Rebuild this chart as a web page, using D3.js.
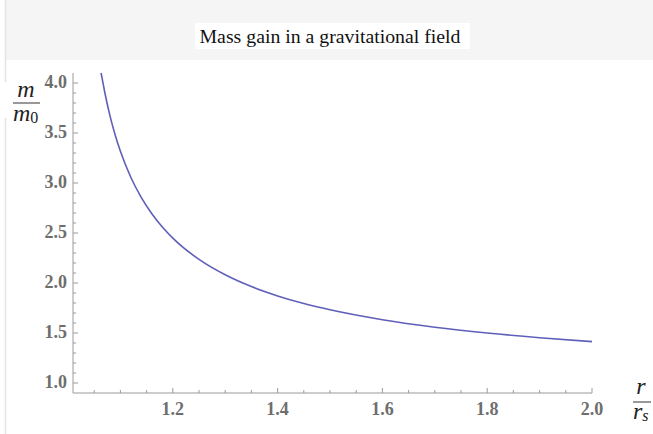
<!DOCTYPE html>
<html>
<head>
<meta charset="utf-8">
<script src="https://cdn.jsdelivr.net/npm/d3@7"></script>
<style>
  html, body { margin: 0; padding: 0; background: #ffffff; }
  svg { display: block; }
</style>
</head>
<body>
<svg id="chart" width="653" height="434"></svg>
<script>
// ---- data ----
const title = "Mass gain in a gravitational field";
const rValues = [1.063, 1.065, 1.07, 1.08, 1.09, 1.10, 1.12, 1.14, 1.16, 1.18, 1.20,
                 1.25, 1.30, 1.35, 1.40, 1.45, 1.50, 1.60, 1.70, 1.80, 1.90, 2.00];
const mValues = [4.10, 4.048, 3.910, 3.674, 3.480, 3.317, 3.055, 2.854, 2.693, 2.560, 2.449,
                 2.236, 2.082, 1.964, 1.871, 1.795, 1.732, 1.633, 1.558, 1.500, 1.453, 1.414];
const xTicks = [1.2, 1.4, 1.6, 1.8, 2.0];
const xMinorTicks = [1.05, 1.1, 1.15, 1.25, 1.3, 1.35, 1.45, 1.5, 1.55, 1.65, 1.7, 1.75, 1.85, 1.9, 1.95];
const yTicks = [1.0, 1.5, 2.0, 2.5, 3.0, 3.5, 4.0];
const yMinorTicks = [1.1, 1.2, 1.3, 1.4, 1.6, 1.7, 1.8, 1.9, 2.1, 2.2, 2.3, 2.4, 2.6, 2.7, 2.8, 2.9,
                     3.1, 3.2, 3.3, 3.4, 3.6, 3.7, 3.8, 3.9];

const svg = d3.select("#chart");

// header band and frame line
svg.append("rect").attr("x", 6).attr("y", 0).attr("width", 647).attr("height", 60).attr("fill", "#f5f5f5");
svg.append("line").attr("x1", 5.5).attr("x2", 5.5).attr("y1", 0).attr("y2", 434)
   .attr("stroke", "#e4e4e4").attr("stroke-width", 1.5);
svg.append("rect").attr("x", 195).attr("y", 23).attr("width", 275).attr("height", 26).attr("fill", "#ffffff");
svg.append("text").attr("x", 330).attr("y", 43).attr("text-anchor", "middle")
   .attr("font-family", "'Liberation Serif', 'Times New Roman', serif").attr("font-size", 19.8)
   .attr("fill", "#111").text(title);

const x = d3.scaleLinear().domain([1.0095, 2.0]).range([73, 592]);
const y = d3.scaleLinear().domain([0.9, 4.1]).range([393, 73]);

const axisColor = "#9a9a9a";
const labelColor = "#6e6e6e";
const tickFont = "'Liberation Serif', serif";

// x axis
const gx = svg.append("g").attr("transform", "translate(0,393)");
gx.append("line").attr("x1", x.range()[0]).attr("x2", x.range()[1]).attr("y1", 0).attr("y2", 0)
  .attr("stroke", axisColor).attr("stroke-width", 1);
gx.selectAll("line.maj").data(xTicks).join("line").attr("class", "maj")
  .attr("x1", d => x(d)).attr("x2", d => x(d)).attr("y1", 0).attr("y2", -5)
  .attr("stroke", axisColor);
gx.selectAll("line.min").data(xMinorTicks).join("line").attr("class", "min")
  .attr("x1", d => x(d)).attr("x2", d => x(d)).attr("y1", 0).attr("y2", -3)
  .attr("stroke", axisColor);
gx.selectAll("text").data(xTicks).join("text")
  .attr("x", d => x(d)).attr("y", 22).attr("text-anchor", "middle")
  .attr("font-family", tickFont).attr("font-weight", "bold").attr("font-size", 18).attr("fill", labelColor)
  .text(d3.format(".1f"));

// y axis
const gy = svg.append("g").attr("transform", "translate(73,0)");
gy.append("line").attr("x1", 0).attr("x2", 0).attr("y1", y.range()[0]).attr("y2", y.range()[1])
  .attr("stroke", axisColor).attr("stroke-width", 1);
gy.selectAll("line.maj").data(yTicks).join("line").attr("class", "maj")
  .attr("x1", 0).attr("x2", 5).attr("y1", d => y(d)).attr("y2", d => y(d))
  .attr("stroke", axisColor);
gy.selectAll("line.min").data(yMinorTicks).join("line").attr("class", "min")
  .attr("x1", 0).attr("x2", 3).attr("y1", d => y(d)).attr("y2", d => y(d))
  .attr("stroke", axisColor);
gy.selectAll("text").data(yTicks).join("text")
  .attr("x", -6).attr("y", d => y(d) + 5).attr("text-anchor", "end")
  .attr("font-family", tickFont).attr("font-weight", "bold").attr("font-size", 18).attr("fill", labelColor)
  .text(d3.format(".1f"));

// curve
const pts = rValues.map((r, i) => [r, mValues[i]]);
svg.append("path").datum(pts)
  .attr("d", d3.line().x(d => x(d[0])).y(d => y(d[1])).curve(d3.curveMonotoneX))
  .attr("fill", "none").attr("stroke", "#5f5fb9").attr("stroke-width", 1.6);

// axis labels (fractions)
const lf = "'Liberation Serif', serif";
const yl = svg.append("g");
yl.append("rect").attr("x", 3).attr("y", 82).attr("width", 6).attr("height", 36).attr("fill", "#fff");
yl.append("text").attr("x", 26).attr("y", 97).attr("text-anchor", "middle")
  .attr("font-family", lf).attr("font-style", "italic").attr("font-size", 24).attr("fill", "#222").text("m");
yl.append("line").attr("x1", 13).attr("x2", 40).attr("y1", 103).attr("y2", 103).attr("stroke", "#333").attr("stroke-width", 1);
const t0 = yl.append("text").attr("x", 13).attr("y", 121)
  .attr("font-family", lf).attr("font-style", "italic").attr("font-size", 24).attr("fill", "#222");
t0.append("tspan").text("m");
t0.append("tspan").attr("font-style", "normal").attr("font-size", 16).attr("dy", 2).text("0");

const xl = svg.append("g");
xl.append("text").attr("x", 641).attr("y", 394).attr("text-anchor", "middle")
  .attr("font-family", lf).attr("font-style", "italic").attr("font-size", 24).attr("fill", "#222").text("r");
xl.append("line").attr("x1", 633).attr("x2", 651).attr("y1", 402).attr("y2", 402).attr("stroke", "#333").attr("stroke-width", 1);
const t1 = xl.append("text").attr("x", 633).attr("y", 419)
  .attr("font-family", lf).attr("font-style", "italic").attr("font-size", 24).attr("fill", "#222");
t1.append("tspan").text("r");
t1.append("tspan").attr("font-size", 16).attr("dy", 2).text("s");
</script>
</body>
</html>
